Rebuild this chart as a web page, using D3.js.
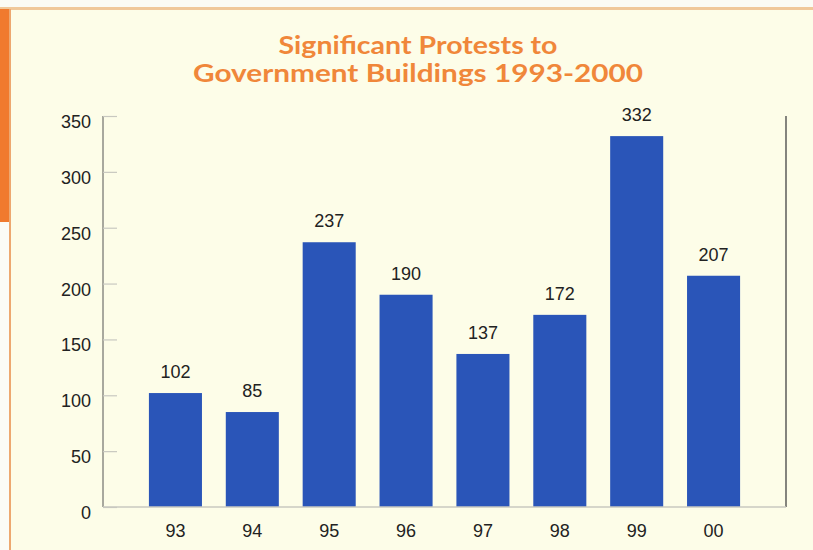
<!DOCTYPE html>
<html><head><meta charset="utf-8">
<script src="https://cdn.jsdelivr.net/npm/d3@7/dist/d3.min.js"></script>
<style>body{margin:0;background:#fff;}svg{display:block;}</style>
</head><body><div id="chart"></div>
<script>
const categories = ["93","94","95","96","97","98","99","00"];
const values = [102, 85, 237, 190, 137, 172, 332, 207];
const yTicks = [0, 50, 100, 150, 200, 250, 300, 350];
const titleLines = ["Significant Protests to", "Government Buildings 1993-2000"];

const W = 813, H = 550;
const svg = d3.select("#chart").append("svg").attr("width", W).attr("height", H);

// backgrounds / frame
svg.append("rect").attr("x",0).attr("y",0).attr("width",W).attr("height",H).attr("fill","#fdfde8");
svg.append("rect").attr("x",0).attr("y",0).attr("width",W).attr("height",7).attr("fill","#fbfbf4");
svg.append("rect").attr("x",0).attr("y",7).attr("width",W).attr("height",3).attr("fill","#f0c89a");
svg.append("rect").attr("x",0).attr("y",222).attr("width",9).attr("height",H-222).attr("fill","#fbfbf6");
svg.append("rect").attr("x",0).attr("y",9).attr("width",9).attr("height",213).attr("fill","#f07a2e");
svg.append("rect").attr("x",9).attr("y",9).attr("width",2).attr("height",H-9).attr("fill","#eda870");

const x0 = 137, x1 = 752, yBase = 507, yTop = 116;
const x = d3.scaleBand().domain(categories).range([x0, x1]).paddingInner(0.31).paddingOuter(0.155);
const y = d3.scaleLinear().domain([0, 350]).range([yBase, yTop]);

const axisLeftX = 103, rightX = 786;
const numFont = "'Liberation Sans', Arial, sans-serif";

// title
const titleWidths = [279, 450];
const title = svg.append("text").attr("text-anchor","middle")
  .attr("font-family","Lato, 'Open Sans', sans-serif").attr("font-weight","bold")
  .attr("font-size", 25).attr("fill","#f0873a");
titleLines.forEach((t,i)=>{
  title.append("tspan").attr("x", 418).attr("y", 54 + i*28)
    .attr("textLength", titleWidths[i]).attr("lengthAdjust","spacingAndGlyphs").text(t);
});

// axes lines
svg.append("line").attr("x1",axisLeftX).attr("x2",axisLeftX).attr("y1",yTop).attr("y2",yBase)
  .attr("stroke","#555").attr("stroke-width",1);
svg.append("line").attr("x1",rightX).attr("x2",rightX).attr("y1",yTop).attr("y2",yBase)
  .attr("stroke","#444").attr("stroke-width",1.3);

// y axis ticks via d3 axis
const yAxis = d3.axisRight(y).tickValues(yTicks).tickSize(14).tickFormat("");
const gy = svg.append("g").attr("transform",`translate(${axisLeftX},0)`).call(yAxis);
gy.select(".domain").remove();
gy.selectAll(".tick line").attr("stroke","#c8c8c0").attr("stroke-width",1.2);

svg.append("g").selectAll("text").data(yTicks).join("text")
  .attr("x", 91).attr("y", d=>y(d)+12).attr("text-anchor","end")
  .attr("font-family",numFont).attr("font-size",18)
  .attr("fill","#222").text(d=>d);

// bars
svg.append("g").selectAll("rect").data(values).join("rect")
  .attr("x",(d,i)=>x(categories[i])).attr("width",x.bandwidth())
  .attr("y",d=>y(d)).attr("height",d=>yBase-y(d)).attr("fill","#2a55b8");

// baseline
svg.append("line").attr("x1",axisLeftX).attr("x2",rightX).attr("y1",yBase).attr("y2",yBase)
  .attr("stroke","#c8c8c0").attr("stroke-width",1.5);

// value labels
svg.append("g").selectAll("text").data(values).join("text")
  .attr("x",(d,i)=>x(categories[i])+x.bandwidth()/2).attr("y",d=>y(d)-15)
  .attr("text-anchor","middle").attr("font-family",numFont)
  .attr("font-size",18).attr("fill","#222").text(d=>d);

// x labels
const xAxis = d3.axisBottom(x).tickSize(0).tickPadding(0);
const gx = svg.append("g").attr("transform",`translate(0,${yBase})`).call(xAxis);
gx.select(".domain").remove();
gx.selectAll("text").attr("dy",null).attr("y",30).attr("font-family",numFont)
  .attr("font-size",18).attr("fill","#222");
</script></body></html>
